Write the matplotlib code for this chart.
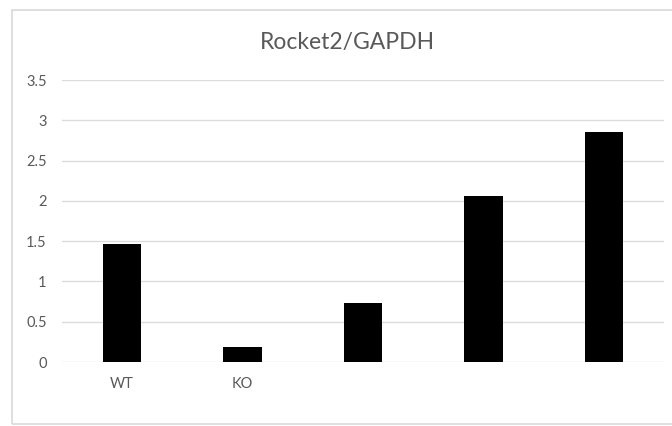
import matplotlib.pyplot as plt
from matplotlib.patches import Rectangle

# Rocket2 expression normalised to GAPDH
groups = ["WT", "KO", "", "", ""]
ratio = [1.46, 0.19, 0.73, 2.06, 2.85]
yticks = [0, 0.5, 1, 1.5, 2, 2.5, 3, 3.5]
ytick_labels = ["0", "0.5", "1", "1.5", "2", "2.5", "3", "3.5"]

W, H = 672, 426
fig = plt.figure(figsize=(W / 100, H / 100), dpi=100)
plt.rcParams['font.family'] = ['Lato', 'DejaVu Sans']

# chart area border
fig.patches.append(Rectangle((12 / W, 1 - 424 / H), 680 / W, 414 / H,
                             transform=fig.transFigure, fill=False,
                             edgecolor="#d9d9d9", linewidth=1.2))

ax = fig.add_axes([62 / W, 1 - 362 / H, 602 / W, 282 / H])
x = list(range(len(groups)))
ax.bar(x, ratio, width=0.32, color="black", zorder=3)

ax.set_xlim(-0.5, len(groups) - 0.5)
ax.set_ylim(0, 3.5)
ax.set_yticks(yticks)
ax.set_yticklabels(ytick_labels)
ax.set_xticks(x)
ax.set_xticklabels(groups)
ax.yaxis.grid(True, color="#dcdcdc", linewidth=1.0, zorder=0)
ax.set_axisbelow(True)
for s in ax.spines.values():
    s.set_visible(False)
ax.tick_params(axis="both", length=0, labelsize=10.5, colors="#595959")
ax.tick_params(axis="x", pad=11)
ax.tick_params(axis="y", pad=11)

fig.text(347 / W, 1 - 42 / H, "Rocket2/GAPDH", ha="center", va="center",
         fontsize=16.5, color="#595959")

fig.savefig("out.png", dpi=100)
